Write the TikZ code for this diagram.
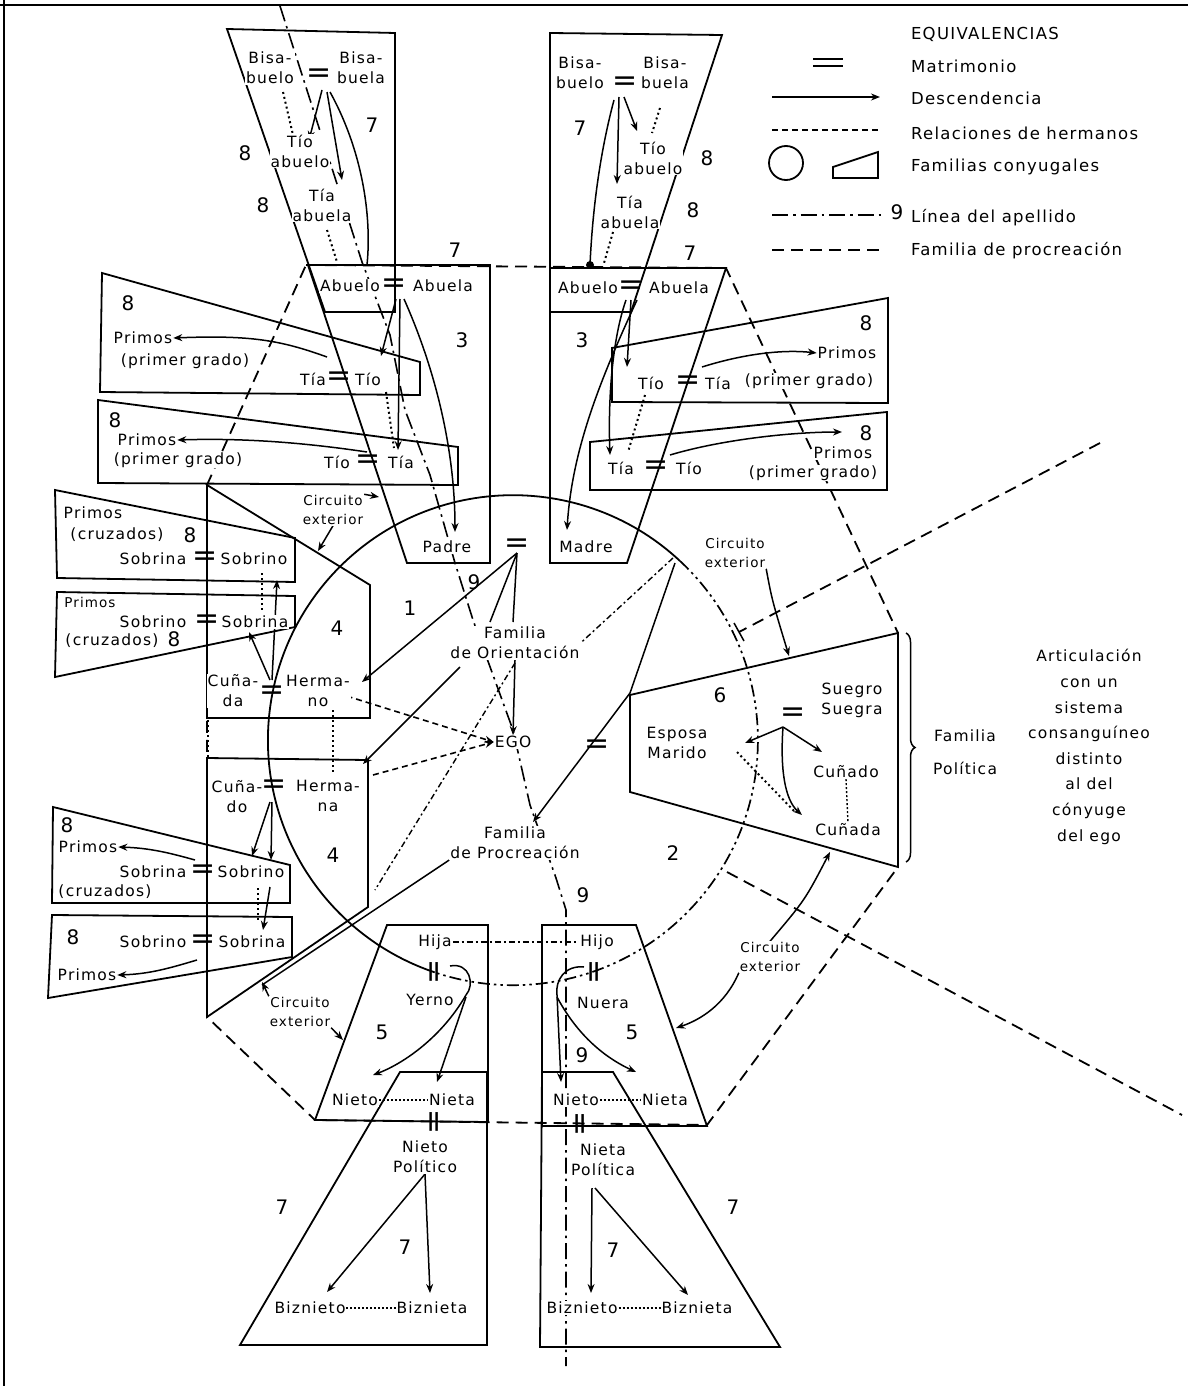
\documentclass[tikz,border=0pt]{standalone}
\usepackage{fontspec}
\setmainfont{DejaVu Sans}[LetterSpace=8]
\usetikzlibrary{arrows.meta,decorations.pathreplacing}
\pgfdeclarelayer{bg}
\pgfsetlayers{bg,main}
\begin{document}
\begin{tikzpicture}[x=1pt,y=-1pt,
  lbl/.style={font=\fontsize{15.5}{20}\selectfont, inner sep=0.8pt, align=center, fill=white},
  leg/.style={font=\fontsize{16.5}{20}\selectfont, inner sep=0.8pt, anchor=west},
  sm/.style={font=\fontsize{13.5}{19}\selectfont, inner sep=0.8pt, align=center, fill=white},
  num/.style={font=\fontsize{20}{20}\selectfont, inner sep=0.5pt},
  eqs/.style={font=\fontsize{30}{30}\selectfont, inner sep=0pt},
  veq/.style={font=\fontsize{30}{30}\selectfont, inner sep=0pt, rotate=90},
  fam/.style={line width=1.8pt, line join=miter},
  ln/.style={line width=1.5pt},
  arr/.style={line width=1.5pt, -{Stealth[length=9pt,width=7pt]}},
  herm/.style={line width=1.6pt, dash pattern=on 6pt off 4pt},
  sib/.style={line width=2pt, dash pattern=on 2pt off 3pt},
  apel/.style={line width=1.6pt, dash pattern=on 16pt off 5pt on 2.5pt off 5pt},
  ddot/.style={line width=1.7pt, dash pattern=on 12pt off 4pt on 2.5pt off 4pt on 2.5pt off 4pt},
  procr/.style={line width=1.8pt, dash pattern=on 12pt off 7pt},
  hd/.style={line width=1.4pt, dash pattern=on 6pt off 3pt on 2pt off 3pt},
  ndot/.style={line width=1.4pt, dash pattern=on 2pt off 2pt}
]
\useasboundingbox (0,0) rectangle (1188,1386);

% ---------------- legend ----------------
\node[leg] (lgT) at (910,34) {EQUIVALENCIAS};
\node[leg] (lgM) at (910,66) {Matrimonio};
\node[leg] (lgD) at (910,98) {Descendencia};
\node[leg] (lgH) at (910,133) {Relaciones de hermanos};
\node[leg] (lgF) at (910,167) {Familias conyugales};
\node[num] (lg9) at (897,212) {9};
\node[leg] (lgA) at (910,218) {Línea del apellido};
\node[leg] (lgP) at (910,251) {Familia de procreación};
\coordinate (lgDa) at (772,97); \coordinate (lgDb) at (880,97);

% ---------------- top left ----------------
\node[lbl] (bbL) at (270,68) {Bisa-\\buelo};
\node[eqs] (eqbbL) at (319,76) {=};
\node[lbl] (bbaL) at (361,68) {Bisa-\\buela};
\node[lbl] (taL) at (300,151) {Tío\\abuelo};
\node[lbl] (tiaL) at (322,205) {Tía\\abuela};
\node[num] (n8a) at (245,153) {8};
\node[num] (n8b) at (263,205) {8};
\node[num] (n7a) at (372,125) {7};
\node[num] (n7b) at (455,250) {7};
% top right
\node[lbl] (bbR) at (580,73) {Bisa-\\buelo};
\node[eqs] (eqbbR) at (625,84) {=};
\node[lbl] (bbaR) at (665,73) {Bisa-\\buela};
\node[lbl] (taR) at (653,158) {Tío\\abuelo};
\node[lbl] (tiaR) at (630,212) {Tía\\abuela};
\node[num] (n7c) at (580,128) {7};
\node[num] (n8c) at (707,158) {8};
\node[num] (n8d) at (693,210) {8};
\node[num] (n7d) at (690,253) {7};
% abuelos
\node[lbl] (abL) at (350,286) {Abuelo};
\node[eqs] (eqabL) at (394,286) {=};
\node[lbl] (abaL) at (443,286) {Abuela};
\node[num] (n3L) at (462,340) {3};
\node[lbl] (abR) at (588,288) {Abuelo};
\node[eqs] (eqabR) at (631,288) {=};
\node[lbl] (abaR) at (679,288) {Abuela};
\node[num] (n3R) at (582,340) {3};
% box A
\node[num] (n8e) at (128,303) {8};
\node[lbl] (prA) at (143,338) {Primos};
\node[lbl] (pgA) at (185,361) {(primer grado)};
\node[lbl] (tiaA) at (313,379) {Tía};
\node[eqs] (eqA) at (339,379) {=};
\node[lbl] (tioA) at (368,379) {Tío};
% box B
\node[num] (n8f) at (115,420) {8};
\node[lbl] (prB) at (147,440) {Primos};
\node[lbl] (pgB) at (178,460) {(primer grado)};
\node[lbl] (tioB) at (337,462) {Tío};
\node[eqs] (eqB) at (368,462) {=};
\node[lbl] (tiaB) at (401,462) {Tía};
% box C
\node[num] (n8g) at (866,323) {8};
\node[lbl] (prC) at (847,353) {Primos};
\node[lbl] (pgC) at (809,381) {(primer grado)};
\node[lbl] (tioC) at (651,383) {Tío};
\node[eqs] (eqC) at (688,383) {=};
\node[lbl] (tiaC) at (718,383) {Tía};
% box D
\node[num] (n8h) at (866,433) {8};
\node[lbl] (prD) at (843,453) {Primos};
\node[lbl] (pgD) at (813,473) {(primer grado)};
\node[lbl] (tiaD) at (621,468) {Tía};
\node[eqs] (eqD) at (656,468) {=};
\node[lbl] (tioD) at (689,468) {Tío};
% box E
\node[lbl] (prE) at (93,513) {Primos};
\node[lbl] (crE) at (117,535) {(cruzados)};
\node[num] (n8i) at (190,535) {8};
\node[lbl] (soE1) at (153,559) {Sobrina};
\node[eqs] (eqE) at (205,559) {=};
\node[lbl] (soE2) at (254,559) {Sobrino};
% box F
\node[sm] (prF) at (90,602) {Primos};
\node[lbl] (soF1) at (153,622) {Sobrino};
\node[eqs] (eqF) at (207,622) {=};
\node[lbl] (soF2) at (255,622) {Sobrina};
\node[lbl] (crF) at (112,641) {(cruzados)};
\node[num] (n8j) at (174,639) {8};
% box 4 upper
\node[num] (n4a) at (337,628) {4};
\node[lbl] (cuU) at (233,691) {Cuña-\\da};
\node[eqs] (eqU) at (272,693) {=};
\node[lbl] (heU) at (318,691) {Herma-\\no};
% box 4 lower
\node[lbl] (cuL) at (237,797) {Cuña-\\do};
\node[eqs] (eqL) at (274,787) {=};
\node[lbl] (heL) at (328,796) {Herma-\\na};
\node[num] (n4b) at (333,855) {4};
% box G
\node[num] (n8k) at (67,825) {8};
\node[lbl] (prG) at (88,847) {Primos};
\node[lbl] (soG1) at (153,872) {Sobrina};
\node[eqs] (eqG) at (203,872) {=};
\node[lbl] (soG2) at (251,872) {Sobrino};
\node[lbl] (crG) at (105,892) {(cruzados)};
% box H
\node[num] (n8l) at (73,937) {8};
\node[lbl] (soH1) at (153,942) {Sobrino};
\node[eqs] (eqH) at (203,942) {=};
\node[lbl] (soH2) at (252,942) {Sobrina};
\node[lbl] (prH) at (87,975) {Primos};
% centre
\node[lbl] (padre) at (447,547) {Padre};
\node[eqs] (eqPM) at (517,546) {=};
\node[lbl] (madre) at (586,547) {Madre};
\node[num] (n9a) at (474,582) {9};
\node[num] (n1) at (410,608) {1};
\node[lbl] (fo) at (515,643) {Familia\\de Orientación};
\node[lbl] (ego) at (513,742) {EGO};
\node[eqs] (eqEgo) at (597,747) {=};
\node[lbl] (fp) at (515,843) {Familia\\de Procreación};
\node[num] (n2) at (673,853) {2};
\node[num] (n9b) at (583,895) {9};
% box 6
\node[num] (n6) at (720,695) {6};
\node[lbl] (esp) at (677,743) {Esposa\\Marido};
\node[lbl] (sue) at (852,700) {Suegro\\Suegra};
\node[eqs] (eq6) at (793,715) {=};
\node[lbl] (cdo) at (846,772) {Cuñado};
\node[lbl] (cda) at (848,830) {Cuñada};
\node[lbl] (fpol) at (965,752) {Familia\\[13pt]Política};
\node[font=\fontsize{15.5}{25.6}\selectfont, align=center] (art) at (1089,747)
  {Articulación\\con un\\sistema\\consanguíneo\\distinto\\al del\\cónyuge\\del ego};
% circuitos
\node[sm] (ciUL) at (333,510) {Circuito\\exterior};
\node[sm] (ciUR) at (735,553) {Circuito\\exterior};
\node[sm] (ciLR) at (770,957) {Circuito\\exterior};
\node[sm] (ciLL) at (300,1012) {Circuito\\exterior};
% bottom left
\node[lbl] (hija) at (435,942) {Hija};
\node[veq] (eqY) at (437,972) {=};
\node[lbl] (yerno) at (430,1000) {Yerno};
\node[num] (n5a) at (382,1032) {5};
\node[lbl] (nietoL) at (355,1100) {Nieto};
\node[lbl] (nietaL) at (452,1100) {Nieta};
\node[veq] (eqNL) at (437,1122) {=};
\node[lbl] (npL) at (425,1157) {Nieto\\Político};
\node[num] (n7e) at (282,1207) {7};
\node[num] (n7f) at (405,1247) {7};
\node[lbl] (bzL1) at (310,1308) {Biznieto};
\node[lbl] (bzL2) at (432,1308) {Biznieta};
% bottom right
\node[lbl] (hijo) at (597,942) {Hijo};
\node[veq] (eqN) at (597,972) {=};
\node[lbl] (nuera) at (603,1003) {Nuera};
\node[num] (n5b) at (632,1032) {5};
\node[num] (n9c) at (582,1055) {9};
\node[lbl] (nietoR) at (576,1100) {Nieto};
\node[lbl] (nietaR) at (665,1100) {Nieta};
\node[veq] (eqNR) at (583,1124) {=};
\node[lbl] (npR) at (603,1160) {Nieta\\Política};
\node[num] (n7g) at (613,1250) {7};
\node[num] (n7h) at (733,1207) {7};
\node[lbl] (bzR1) at (582,1308) {Biznieto};
\node[lbl] (bzR2) at (697,1308) {Biznieta};

\begin{pgfonlayer}{bg}
% frame
\draw[line width=1.8pt] (0,5) -- (1188,5);
\draw[line width=1.8pt] (4,0) -- (4,1386);
% legend samples
\draw[ln] (813,59) -- (843,59); \draw[ln] (813,66) -- (843,66);
\draw[arr] (lgDa) -- (lgDb);
\draw[herm] (772,130) -- (880,130);
\draw[fam] (786,163) circle[radius=17];
\draw[fam] (833,167) -- (878,152) -- (878,178) -- (833,178) -- cycle;
\draw[apel] (772,215) -- (884,215);
\draw[procr] (772,250) -- (880,250);

% octagon (familia de procreacion)
\draw[procr] (306,265) -- (726,268) -- (898,633) -- (898,867) -- (707,1125) -- (315,1120) -- (207,1017) -- (207,485) -- cycle;
% long dashed lines on the right
\draw[procr] (1100,443) -- (739,632);
\draw[ln] (734,623) -- (744,641);
\draw[procr] (727,872) -- (1182,1115);

% main circle
\draw[fam] (680,561) arc[start angle=-47, end angle=-251.4, radius=245];
\draw[ddot] (680,561) arc[start angle=-47, end angle=108.6, radius=245];

% family boxes
\draw[fam] (227,29) -- (395,33) -- (395,312) -- (325,312) -- cycle;
\draw[fam] (308,265) -- (490,265) -- (490,563) -- (407,563) -- cycle;
\draw[fam] (550,33) -- (722,35) -- (631,312) -- (550,312) -- cycle;
\draw[fam] (550,268) -- (726,268) -- (627,563) -- (550,563) -- cycle;
\draw[fam] (102,273) -- (420,362) -- (420,395) -- (100,392) -- cycle;
\draw[fam] (98,400) -- (458,447) -- (458,485) -- (98,483) -- cycle;
\draw[fam] (888,298) -- (612,348) -- (612,402) -- (888,403) -- cycle;
\draw[fam] (887,412) -- (590,442) -- (590,490) -- (887,490) -- cycle;
\draw[fam] (207,485) -- (370,585) -- (370,718) -- (207,718) -- cycle;
\draw[fam] (207,758) -- (368,760) -- (368,907) -- (207,1017) -- cycle;
\draw[fam] (55,490) -- (295,538) -- (295,582) -- (57,578) -- cycle;
\draw[fam] (57,592) -- (295,596) -- (295,627) -- (55,677) -- cycle;
\draw[fam] (53,807) -- (290,865) -- (290,903) -- (52,903) -- cycle;
\draw[fam] (52,915) -- (292,917) -- (292,957) -- (48,998) -- cycle;
\draw[fam] (630,695) -- (898,633) -- (898,867) -- (630,792) -- cycle;
\draw[fam] (387,925) -- (488,925) -- (488,1122) -- (315,1120) -- cycle;
\draw[fam] (542,925) -- (636,925) -- (707,1126) -- (542,1126) -- cycle;
\draw[fam] (400,1072) -- (487,1072) -- (487,1345) -- (240,1345) -- cycle;
\draw[fam] (542,1072) -- (613,1072) -- (780,1347) -- (540,1347) -- cycle;
% brace
\draw[ln, decorate, decoration={brace, amplitude=9pt}] (906,633) -- (906,862);

% linea del apellido
\draw[apel] (280,6) -- (362,262) -- (390,335) -- (405,410) -- (430,475) -- (455,563) -- (473,620) -- (513,730) -- (530,805) -- (556,878) -- (566,910) -- (566,1366);
\draw[hd] (673,558) -- (fo.east);
\draw[hd] (515,663) -- (375,890);

% top left descent
\draw[arr] (322,90) -- (309,140);
\draw[arr] (327,92) -- (342,180);
\draw[ln] (330,92) .. controls (362,150) and (372,215) .. (367,265);
\draw[sib] (283,92) -- (293,135);
\draw[sib] (327,230) -- (337,262);
% top right descent
\draw[arr] (624,97) -- (637,131);
\draw[arr] (619,97) -- (617,184);
\draw[ln] (614,100) .. controls (598,160) and (592,220) .. (590,265);
\fill (590,265) circle[radius=4];
\draw[sib] (660,108) -- (652,133);
\draw[sib] (613,232) -- (604,263);
% abuelos left
\draw[arr] (396,299) -- (381,356);
\draw[arr] (400,299) -- (398,450);
\draw[arr] (404,299) .. controls (440,380) and (455,460) .. (455,532);
\draw[sib] (386,392) -- (394,448);
% abuelos right
\draw[arr] (631,300) -- (627,367);
\draw[arr] (626,300) .. controls (612,340) and (608,400) .. (610,455);
\draw[arr] (637,300) .. controls (600,380) and (572,450) .. (567,530);
\draw[sib] (645,395) -- (628,452);
% primos arrows
\draw[arr] (327,357) .. controls (280,340) and (250,335) .. (prA.east);
\draw[arr] (367,452) .. controls (300,442) and (240,438) .. (prB.east);
\draw[arr] (702,367) .. controls (740,355) and (780,349) .. (prC.west);
\draw[arr] (670,455) .. controls (720,440) and (790,432) .. (842,432);
\draw[arr] (195,860) .. controls (170,853) and (150,848) .. (prG.east);
\draw[arr] (197,960) .. controls (170,968) and (150,974) .. (prH.east);
% hermanos 4 upper
\draw[arr] (270,680) -- (249,632);
\draw[arr] (272,680) -- (277,580);
\draw[sib] (262,573) -- (262,610);
% hermanos 4 lower
\draw[arr] (270,802) -- (252,856);
\draw[arr] (272,802) -- (271,860);
\draw[arr] (270,887) -- (263,930);
\draw[sib] (258,888) -- (258,922);
\draw[sib] (208,720) -- (208,757);
\draw[sib] (333,700) -- (333,772);

% centre: orientacion
\draw[ln] (eqPM.south) -- (513,622);
\draw[ln] (eqPM.south) -- (490,622);
\draw[arr] (eqPM.south) -- (362,682);
\draw[arr] (fo.south) -- (ego.north);
\draw[arr] (460,667) -- (363,764);
\draw[herm,-{Stealth[length=9pt,width=7pt]}] (337,693) -- (ego.west);
\draw[herm,-{Stealth[length=9pt,width=7pt]}] (373,775) -- (ego.west);
% ego marriage / procreacion
\draw[arr] (675,563) -- (630,693) -- (533,822);
\draw[ln] (fp.south west) -- (262,985);

% box 6
\draw[arr] (783,727) -- (745,743);
\draw[arr] (783,727) -- (822,752);
\draw[arr] (783,727) .. controls (780,770) and (785,800) .. (802,815);
\draw[ndot] (cdo.south) -- (cda.north);
\draw[sib] (737,752) -- (796,813);

% circuito exterior arrows
\draw[arr] (ciUL.north east) -- (379,497);
\draw[arr] (ciUL.south) -- (318,551);
\draw[arr] (ciUR.south east) .. controls (772,600) .. (789,656);
\draw[arr] (ciLR.north) .. controls (805,900) .. (830,852);
\draw[arr] (ciLR.south west) .. controls (725,1005) and (700,1020) .. (676,1028);
\draw[arr] (ciLL.north west) -- (262,982);
\draw[arr] (ciLL.south east) -- (343,1040);

% bottom: hijos
\draw[hd] (hija.east) -- (hijo.west);
\draw[ndot] (nietoL.east) -- (nietaL.west);
\draw[ndot] (nietoR.east) -- (nietaR.west);
\draw[ndot] (bzL1.east) -- (bzL2.west);
\draw[ndot] (bzR1.east) -- (bzR2.west);
\draw[ln] (450,966) .. controls (470,962) and (475,985) .. (466,995);
\draw[arr] (466,995) .. controls (440,1040) and (400,1065) .. (373,1075);
\draw[arr] (466,997) -- (437,1082);
\draw[ln] (584,967) .. controls (565,965) and (555,980) .. (557,995);
\draw[arr] (557,995) -- (561,1082);
\draw[arr] (557,997) .. controls (580,1040) and (610,1060) .. (636,1072);
\draw[arr] (npL.south) -- (327,1292);
\draw[arr] (npL.south) -- (430,1293);
\draw[arr] (592,1188) -- (591,1293);
\draw[arr] (595,1188) -- (688,1295);
\end{pgfonlayer}
\end{tikzpicture}
\end{document}
